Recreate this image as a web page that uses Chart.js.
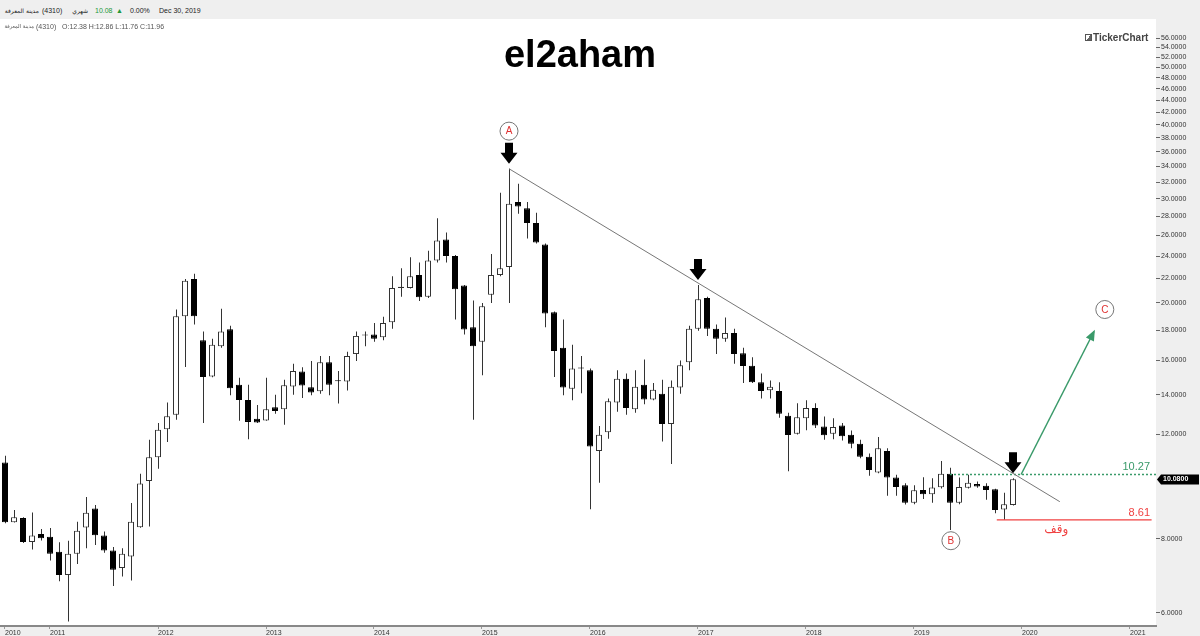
<!DOCTYPE html>
<html>
<head>
<meta charset="utf-8">
<title>el2aham</title>
<script src="https://cdn.jsdelivr.net/npm/chart.js@4.4.1/dist/chart.umd.min.js"></script>
<style>
  body { margin: 0; background: #fff; font-family: "Liberation Sans", Arial, sans-serif; }
  #wrap { position: relative; width: 1200px; height: 636px; overflow: hidden; }
  #head { position: absolute; left: 0; top: 0; width: 1200px; height: 19px; background: #efefef; color: #222; font-size: 7px; line-height: 7px; }
  #head span, #info span { position: absolute; white-space: nowrap; }
  #head span { top: 7px; }
  #head .ar, #info .ar { font-family: "DejaVu Sans", sans-serif; font-size: 6px; direction: rtl; }
  #info .ar { font-size: 5.2px; }
  #info { position: absolute; left: 0; top: 23px; width: 1200px; font-size: 7px; line-height: 7px; color: #555; z-index: 2; }
  #title { position: absolute; left: 0; width: 1160px; top: 35px; text-align: center; font: bold 38px/38px "Liberation Sans", Arial, sans-serif; color: #000; z-index: 2; }
  #logo { position: absolute; left: 1085px; top: 33px; font: bold 10px/10px "Liberation Sans", Arial, sans-serif; color: #444; z-index: 2; }
  #logo i { display: inline-block; width: 5px; height: 5px; border: 1px solid #555; margin-right: 1px; background: linear-gradient(135deg, #fff 50%, #666 50%); }
  #box { position: absolute; left: 0; top: 19px; width: 1200px; height: 617px; }
</style>
</head>
<body>
<div id="wrap">
  <div id="head">
    <span class="ar" style="right:1161px">مدينة المعرفة</span>
    <span style="left:42px">(4310)</span>
    <span class="ar" style="right:1112px">شهري</span>
    <span style="left:95px;color:#23973a">10.08</span>
    <span style="left:116px;color:#23973a">▲</span>
    <span style="left:130px">0.00%</span>
    <span style="left:159px">Dec 30, 2019</span>
  </div>
  <div id="info">
    <span class="ar" style="right:1166px">مدينة المعرفة</span>
    <span style="left:36px">(4310)</span>
    <span style="left:62px">O:12.38 H:12.86 L:11.76 C:11.96</span>
  </div>
  <div id="title">el2aham</div>
  <div id="logo"><i></i>TickerChart</div>
  <div id="box"><canvas id="c" width="1200" height="617"></canvas></div>
</div>
<script>
// monthly candles, Aug 2010 .. Dec 2019
var open = [10.76, 8.53, 8.67, 7.90, 8.15, 8.06, 7.61, 6.95, 7.55, 8.36, 9.00, 8.10, 7.64, 7.14, 7.47, 8.37, 10.01, 10.98, 12.24, 12.95,
  19.00, 21.95, 17.30, 15.03, 16.90, 18.06, 14.55, 13.72, 12.75, 12.67, 13.34, 13.24, 14.46, 15.33, 14.41, 14.19, 15.88, 14.80, 14.74, 16.40,
  17.62, 17.70, 17.50, 18.55, 21.20, 21.20, 22.30, 20.50, 23.60, 25.60, 24.00, 21.40, 18.20, 17.20, 20.65, 22.30, 23.00, 29.60, 28.90, 27.30,
  25.10, 19.30, 16.80, 14.33, 15.55, 15.40, 11.25, 12.10, 13.58, 14.90, 13.24, 14.55, 13.74, 14.05, 12.50, 14.40, 15.88, 18.10, 20.40, 18.10,
  17.40, 17.80, 16.45, 15.67, 14.70, 14.25, 14.20, 12.90, 12.03, 12.78, 13.30, 12.38, 12.03, 12.42, 11.98, 11.57, 11.00, 10.35, 11.25, 10.15,
  9.85, 9.20, 9.67, 9.51, 9.77, 10.30, 9.20, 9.75, 9.90, 9.83, 9.70, 8.96, 9.12];
var high = [11.05, 8.95, 8.70, 8.86, 8.31, 8.34, 7.89, 7.94, 8.55, 9.41, 9.12, 8.23, 7.75, 7.71, 9.19, 10.30, 11.75, 12.54, 13.58, 19.50,
  21.95, 22.40, 17.90, 17.40, 19.55, 18.30, 14.95, 14.55, 13.45, 14.95, 14.00, 14.84, 15.79, 15.58, 15.96, 16.27, 16.27, 15.35, 16.55, 17.90,
  17.90, 18.50, 18.96, 22.20, 22.90, 23.90, 23.40, 24.50, 27.80, 26.30, 24.10, 21.45, 20.20, 20.00, 24.20, 30.70, 33.70, 31.80, 29.60, 28.40,
  25.20, 19.35, 18.75, 17.00, 16.27, 15.50, 12.40, 13.80, 15.40, 15.20, 15.40, 16.05, 14.65, 14.84, 14.80, 16.00, 18.30, 21.45, 20.50, 18.40,
  18.90, 18.10, 16.80, 16.20, 15.20, 14.80, 14.70, 13.05, 13.55, 13.70, 13.55, 12.86, 12.78, 12.54, 12.18, 11.75, 11.14, 11.88, 11.37, 10.26,
  9.93, 9.85, 10.16, 10.12, 10.82, 10.54, 10.15, 10.26, 9.99, 9.93, 9.72, 9.57, 10.12];
var low = [8.50, 8.52, 7.87, 7.67, 7.95, 7.35, 6.78, 5.80, 7.25, 7.71, 7.81, 7.58, 6.66, 6.91, 6.80, 8.35, 8.39, 10.50, 11.65, 12.70,
  15.59, 18.40, 12.54, 14.98, 16.80, 13.97, 12.66, 11.78, 12.54, 12.66, 13.00, 12.46, 14.00, 13.82, 13.97, 14.05, 13.97, 13.53, 14.24, 15.96,
  16.90, 17.20, 17.30, 18.10, 20.50, 21.15, 20.15, 20.40, 23.40, 23.40, 18.75, 17.70, 12.70, 15.10, 20.00, 22.20, 20.00, 28.30, 25.70, 25.20,
  18.20, 15.00, 13.97, 13.70, 14.08, 8.97, 9.95, 11.80, 13.10, 12.95, 13.05, 13.50, 13.70, 11.67, 10.70, 14.05, 15.40, 17.95, 17.60, 16.40,
  17.20, 15.80, 14.65, 14.65, 13.80, 13.80, 12.80, 10.40, 12.00, 12.20, 12.30, 11.76, 11.78, 11.72, 11.37, 10.94, 10.22, 10.32, 9.46, 9.46,
  9.14, 9.15, 9.34, 9.20, 9.73, 8.28, 9.15, 9.73, 9.75, 9.31, 8.83, 8.61, 9.10];
var close = [8.53, 8.70, 7.90, 8.10, 8.02, 7.55, 6.95, 7.55, 8.25, 8.85, 8.11, 7.64, 7.09, 7.55, 8.55, 9.92, 10.98, 12.22, 12.88, 19.00,
  21.80, 19.00, 15.00, 17.00, 17.90, 14.36, 13.72, 12.60, 12.57, 13.24, 13.15, 14.53, 15.35, 14.51, 14.12, 15.88, 14.55, 14.76, 16.27, 17.60,
  17.66, 17.40, 18.50, 21.20, 21.30, 22.20, 20.45, 23.60, 25.50, 24.00, 21.10, 18.05, 16.90, 19.75, 22.30, 22.90, 29.40, 29.10, 27.30, 25.30,
  19.20, 16.60, 14.40, 15.50, 15.50, 11.45, 11.99, 13.65, 14.90, 13.30, 14.45, 13.74, 14.27, 12.50, 14.45, 15.70, 18.10, 20.30, 18.10, 17.40,
  17.80, 16.40, 15.66, 14.70, 14.20, 14.44, 13.00, 11.97, 12.83, 13.30, 12.42, 11.96, 12.35, 11.92, 11.57, 11.00, 10.45, 11.37, 10.15, 9.78,
  9.20, 9.66, 9.51, 9.76, 10.30, 9.20, 9.78, 9.95, 9.80, 9.67, 8.95, 9.15, 10.08];

var months = [];
for (var k = 0; k < open.length; k++) {
  var m = 7 + k;
  months.push((2010 + Math.floor(m / 12)) + '-' + String(m % 12 + 1).padStart(2, '0'));
}

var yearLabels = ['2010', '2011', '2012', '2013', '2014', '2015', '2016', '2017', '2018', '2019', '2020', '2021'];
var yearTickIdx = [0, 5, 17, 29, 41, 53, 65, 77, 89, 101, 113, 125];
var yTicks = [56, 54, 52, 50, 48, 46, 44, 42, 40, 38, 36, 34, 32, 30, 28, 26, 24, 22, 20, 18, 16, 14, 12, 8, 6];

// drawings on the chart (x = candle index, y = price)
var trendLine = [{x: 56, y: 33.7}, {x: 117.2, y: 9.24}];
var targetLine = [{x: 112.9, y: 10.27}, {x: 121.0, y: 17.9}];
var breakLevel = 10.27, breakFrom = 105;
var stopLevel = 8.61, stopFrom = 110.2, stopTo = 127.4;
var waveLabels = [{t: 'A', x: 56, y: 39.0}, {t: 'B', x: 105.1, y: 7.94}, {t: 'C', x: 122.2, y: 19.5}];
var arrowAt = [56, 77, 112];
var stopText = {t: 'وقف', x: 116.8, y: 8.61};

var GREEN = '#3a9a6a', RED = '#f04040';
var FONT = '"Liberation Sans", Arial, sans-serif';

var X_MIN = -5 / 9, X_SPAN = 1156 / 9;

function downArrow(ctx, x, tip) {
  ctx.beginPath();
  ctx.moveTo(x - 4, tip - 21);
  ctx.lineTo(x + 4, tip - 21);
  ctx.lineTo(x + 4, tip - 11);
  ctx.lineTo(x + 8.5, tip - 11);
  ctx.lineTo(x, tip);
  ctx.lineTo(x - 8.5, tip - 11);
  ctx.lineTo(x - 4, tip - 11);
  ctx.closePath();
  ctx.fill();
}

var annot = {
  id: 'annot',
  beforeDraw: function (chart) {
    var ctx = chart.ctx, a = chart.chartArea;
    ctx.save();
    ctx.fillStyle = '#efefef';
    ctx.fillRect(0, 0, chart.width, chart.height);
    ctx.fillStyle = '#fff';
    ctx.fillRect(a.left, a.top, a.right - a.left, a.bottom - a.top);
    ctx.restore();
  },
  afterDatasetsDraw: function (chart) {
    var ctx = chart.ctx, xs = chart.scales.x, ys = chart.scales.y;
    ctx.save();

    // arrows over the touches of the trend line
    ctx.fillStyle = '#000';
    arrowAt.forEach(function (i) {
      downArrow(ctx, xs.getPixelForValue(i), ys.getPixelForValue(high[i]) - 5);
    });

    // head of the target arrow
    var p1x = xs.getPixelForValue(targetLine[0].x), p1y = ys.getPixelForValue(targetLine[0].y);
    var p2x = xs.getPixelForValue(targetLine[1].x), p2y = ys.getPixelForValue(targetLine[1].y);
    var ang = Math.atan2(p2y - p1y, p2x - p1x);
    ctx.fillStyle = GREEN;
    ctx.beginPath();
    ctx.moveTo(p2x + 2 * Math.cos(ang), p2y + 2 * Math.sin(ang));
    ctx.lineTo(p2x - 9 * Math.cos(ang) + 4.5 * Math.sin(ang), p2y - 9 * Math.sin(ang) - 4.5 * Math.cos(ang));
    ctx.lineTo(p2x - 9 * Math.cos(ang) - 4.5 * Math.sin(ang), p2y - 9 * Math.sin(ang) + 4.5 * Math.cos(ang));
    ctx.closePath();
    ctx.fill();

    // wave circles
    waveLabels.forEach(function (w) {
      var cx = xs.getPixelForValue(w.x), cy = ys.getPixelForValue(w.y);
      ctx.beginPath();
      ctx.arc(cx, cy, 9, 0, Math.PI * 2);
      ctx.fillStyle = '#fff';
      ctx.fill();
      ctx.lineWidth = 1;
      ctx.strokeStyle = '#777';
      ctx.stroke();
      ctx.fillStyle = '#e03030';
      ctx.font = '10px ' + FONT;
      ctx.textAlign = 'center';
      ctx.textBaseline = 'middle';
      ctx.fillText(w.t, cx, cy + 0.5);
    });

    // level texts
    ctx.textBaseline = 'alphabetic';
    ctx.textAlign = 'right';
    ctx.font = '11px ' + FONT;
    ctx.fillStyle = GREEN;
    ctx.fillText(breakLevel.toFixed(2), xs.right - 6, ys.getPixelForValue(breakLevel) - 4);
    ctx.fillStyle = RED;
    ctx.fillText(stopLevel.toFixed(2), xs.right - 6, ys.getPixelForValue(stopLevel) - 4);
    ctx.textAlign = 'center';
    ctx.font = '12px "DejaVu Sans", ' + FONT;
    ctx.fillText(stopText.t, xs.getPixelForValue(stopText.x), ys.getPixelForValue(stopText.y) + 13);
    ctx.restore();
  },
  afterDraw: function (chart) {
    // last price tag on the axis
    var ctx = chart.ctx, ys = chart.scales.y, a = chart.chartArea;
    var last = close[close.length - 1];
    var y = Math.round(ys.getPixelForValue(last)) + 0.5;
    ctx.save();
    ctx.fillStyle = '#000';
    ctx.beginPath();
    ctx.moveTo(a.right + 1, y);
    ctx.lineTo(a.right + 5, y - 5);
    ctx.lineTo(a.right + 43, y - 5);
    ctx.lineTo(a.right + 43, y + 5);
    ctx.lineTo(a.right + 5, y + 5);
    ctx.closePath();
    ctx.fill();
    ctx.fillStyle = '#fff';
    ctx.font = 'bold 7px ' + FONT;
    ctx.textBaseline = 'middle';
    ctx.textAlign = 'left';
    ctx.fillText(last.toFixed(4), a.right + 7, y);
    ctx.restore();
  }
};

var idx = open.map(function (v, i) { return i; });
var isUp = idx.map(function (i) { return close[i] >= open[i]; });

new Chart(document.getElementById('c'), {
  type: 'bar',
  data: {
    labels: months,
    datasets: [
      {
        label: 'wick',
        xAxisID: 'xw',
        data: idx.map(function (i) { return {x: i, y: [low[i], high[i]]}; }),
        backgroundColor: '#333',
        borderWidth: 0,
        barThickness: 1,
        grouped: false,
        inflateAmount: 0,
        order: 3
      },
      {
        label: 'body',
        xAxisID: 'x',
        data: idx.map(function (i) { return {x: i, y: [open[i], close[i]]}; }),
        backgroundColor: isUp.map(function (u) { return u ? '#ffffff' : '#000000'; }),
        borderColor: isUp.map(function (u) { return u ? '#333333' : '#000000'; }),
        borderWidth: 1,
        borderSkipped: false,
        barThickness: 6,
        minBarLength: 1,
        grouped: false,
        inflateAmount: 0,
        order: 2
      },
      {
        type: 'line', label: 'trend', xAxisID: 'x',
        data: trendLine, borderColor: '#777', borderWidth: 1, pointRadius: 0, order: 1
      },
      {
        type: 'line', label: 'break', xAxisID: 'x',
        data: [{x: breakFrom, y: breakLevel}, {x: X_MIN + X_SPAN, y: breakLevel}],
        borderColor: GREEN, borderWidth: 1.5, borderDash: [2, 2], pointRadius: 0, order: 1
      },
      {
        type: 'line', label: 'stop', xAxisID: 'x',
        data: [{x: stopFrom, y: stopLevel}, {x: stopTo, y: stopLevel}],
        borderColor: RED, borderWidth: 1.2, pointRadius: 0, order: 1
      },
      {
        type: 'line', label: 'target', xAxisID: 'x',
        data: targetLine, borderColor: GREEN, borderWidth: 1.5, pointRadius: 0, order: 1
      }
    ]
  },
  options: {
    responsive: false,
    animation: false,
    events: [],
    layout: {padding: 0},
    plugins: {legend: {display: false}, tooltip: {enabled: false}},
    scales: {
      x: {
        type: 'linear', position: 'bottom', min: X_MIN, max: X_MIN + X_SPAN, offset: false,
        grid: {drawOnChartArea: false, drawTicks: true, tickLength: 3, color: '#999', offset: false},
        border: {display: true, color: '#888', width: 2},
        ticks: {
          align: 'start', autoSkip: false, maxRotation: 0, minRotation: 0, padding: 0,
          color: '#333', font: {family: FONT, size: 7},
          callback: function (v, i) { return yearLabels[i]; }
        },
        afterBuildTicks: function (s) { s.ticks = yearTickIdx.map(function (v) { return {value: v}; }); },
        afterFit: function (s) { s.height = 10; s.paddingLeft = 0; s.paddingRight = 0; }
      },
      xw: {
        type: 'linear', display: false, min: X_MIN - 0.5 / 9, max: X_MIN - 0.5 / 9 + X_SPAN, offset: false
      },
      y: {
        type: 'logarithmic', position: 'right', min: 5.70, max: 60.3,
        grid: {drawOnChartArea: false, drawTicks: true, tickLength: 4, color: '#666'},
        border: {display: false},
        ticks: {
          autoSkip: false, padding: 1, color: '#333', font: {family: FONT, size: 7},
          callback: function (v) { return Number(v).toFixed(4); }
        },
        afterBuildTicks: function (s) { s.ticks = yTicks.map(function (v) { return {value: v}; }); },
        afterFit: function (s) { s.width = 44; s.paddingTop = 0; s.paddingBottom = 0; }
      }
    }
  },
  plugins: [annot]
});
</script>
</body>
</html>
